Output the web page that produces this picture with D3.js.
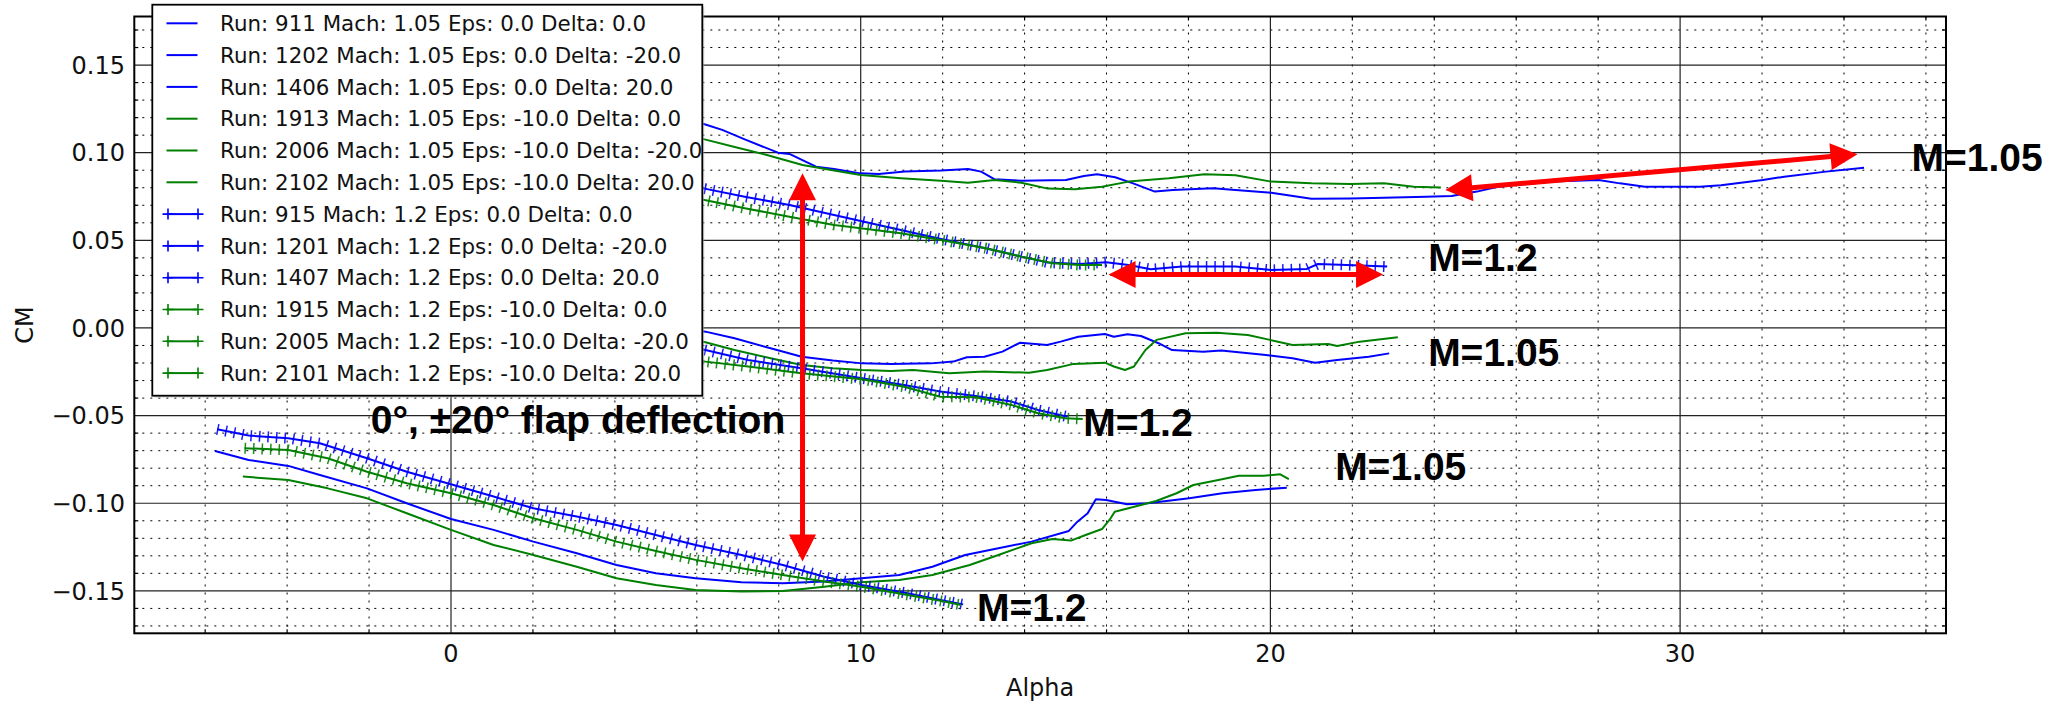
<!DOCTYPE html>
<html><head><meta charset="utf-8">
<script src="https://cdn.jsdelivr.net/npm/d3@7"></script>
<style>body{margin:0;background:#fff;} svg{display:block;}</style>
</head><body>
<svg id="chart" width="2067" height="708"></svg>
<script>
// ---------------- DATA ----------------
const legendLabels = [
  "Run: 911 Mach: 1.05 Eps: 0.0 Delta: 0.0",
  "Run: 1202 Mach: 1.05 Eps: 0.0 Delta: -20.0",
  "Run: 1406 Mach: 1.05 Eps: 0.0 Delta: 20.0",
  "Run: 1913 Mach: 1.05 Eps: -10.0 Delta: 0.0",
  "Run: 2006 Mach: 1.05 Eps: -10.0 Delta: -20.0",
  "Run: 2102 Mach: 1.05 Eps: -10.0 Delta: 20.0",
  "Run: 915 Mach: 1.2 Eps: 0.0 Delta: 0.0",
  "Run: 1201 Mach: 1.2 Eps: 0.0 Delta: -20.0",
  "Run: 1407 Mach: 1.2 Eps: 0.0 Delta: 20.0",
  "Run: 1915 Mach: 1.2 Eps: -10.0 Delta: 0.0",
  "Run: 2005 Mach: 1.2 Eps: -10.0 Delta: -20.0",
  "Run: 2101 Mach: 1.2 Eps: -10.0 Delta: 20.0"
];

// Mach 1.05 runs (plain lines)
const run911Alpha = [-5.7,-3,0,3,6.21,6.92,7.80,8.56,9.32,10.03,10.74,11.72,12.26,12.59,13.02,13.46,13.89,14.55,14.88,15.31,15.96,16.18,16.51,16.84,17.27,17.6,18.36,18.8,19.89,20.54,21.09,21.63,22.4,22.9];
const run911CM    = [0.045,0.035,0.024,0.012,-0.0021,-0.0059,-0.0116,-0.0164,-0.0186,-0.0202,-0.0205,-0.0202,-0.0192,-0.0167,-0.0164,-0.0135,-0.0084,-0.0097,-0.0078,-0.0050,-0.0034,-0.0050,-0.0036,-0.0046,-0.0087,-0.0126,-0.0135,-0.0129,-0.0154,-0.0173,-0.0198,-0.0183,-0.0164,-0.0145];

const run1202Alpha = [-5.7,-4,-2,0,2,4,6.19,6.62,7.17,7.98,8.26,8.91,9.35,10.0,10.44,11.08,11.96,12.62,12.94,13.27,13.92,15.01,15.45,15.77,16.21,16.65,17.18,17.62,18.60,19.15,20.02,21.0,21.95,22.77,23.8,24.42,25.04,25.55,26.89,28.01,28.53,29.14,30.48,31.0,32.02,32.54,33.56,34.49];
const run1202CM    = [0.160,0.156,0.150,0.142,0.133,0.125,0.1162,0.1130,0.1076,0.1000,0.0993,0.0920,0.0907,0.0882,0.0878,0.0892,0.0898,0.0907,0.0892,0.0848,0.0840,0.0844,0.0867,0.0877,0.0860,0.0825,0.0778,0.0787,0.0797,0.0787,0.0772,0.0737,0.0738,0.0743,0.0749,0.0753,0.0778,0.0806,0.0835,0.0844,0.0825,0.0806,0.0806,0.0814,0.0844,0.0863,0.0892,0.0914];

const run1406Alpha = [-5.76,-4.94,-3.97,-3.2,-2.05,-1.08,0,1.04,2.01,3.07,4.04,5.0,5.97,7.09,8.1,9.11,10.02,10.94,11.75,12.55,13.36,14.17,15.08,15.29,15.54,15.74,15.99,16.5,17.0,18.02,18.83,19.64,20.4];
const run1406CM    = [-0.0702,-0.0753,-0.0787,-0.0839,-0.0915,-0.1000,-0.1090,-0.1152,-0.1219,-0.1285,-0.1352,-0.1399,-0.1428,-0.1451,-0.1456,-0.1447,-0.1428,-0.1409,-0.1362,-0.1295,-0.1257,-0.1219,-0.1158,-0.1105,-0.1057,-0.0977,-0.0981,-0.1006,-0.1000,-0.0972,-0.0943,-0.0924,-0.0911];

const run1913Alpha = [-5.0,-2,1,4,6.21,6.92,7.80,8.56,9.32,10.03,10.74,11.28,12.16,13.02,14.11,14.55,15.2,15.96,16.18,16.45,16.67,16.95,17.22,17.93,18.69,19.45,19.99,20.54,21.41,21.63,22.18,23.11];
const run1913CM    = [0.035,0.025,0.014,0.003,-0.0082,-0.0126,-0.0173,-0.0211,-0.0230,-0.0240,-0.0245,-0.0240,-0.0259,-0.0249,-0.0255,-0.0240,-0.0205,-0.0198,-0.0220,-0.0240,-0.0220,-0.0126,-0.0068,-0.0030,-0.0027,-0.0040,-0.0068,-0.0097,-0.0091,-0.0103,-0.0078,-0.0053];

const run2006Alpha = [-5.0,-3,0,3,6.19,6.95,7.71,8.58,9.35,10.0,10.98,11.96,12.62,13.27,13.92,14.57,15.23,15.89,16.54,17.52,18.39,19.15,20.02,21.0,21.95,22.77,23.5,24.16];
const run2006CM    = [0.150,0.145,0.133,0.122,0.1076,0.1031,0.0987,0.0930,0.0898,0.0873,0.0854,0.0840,0.0829,0.0844,0.0829,0.0795,0.0791,0.0806,0.0835,0.0854,0.0877,0.0871,0.0835,0.0825,0.0821,0.0825,0.0806,0.0802];

const run2102Alpha = [-5.08,-3.97,-3.01,-2.05,-1.08,0,1.04,2.01,3.07,4.04,5.0,5.97,7.09,8.1,9.11,10.02,10.94,11.75,12.66,13.36,14.17,14.68,15.13,15.49,15.89,16.1,16.2,16.7,17.21,17.71,18.12,18.73,19.23,19.84,20.24,20.45];
const run2102CM    = [-0.0848,-0.0867,-0.0915,-0.0972,-0.1057,-0.1152,-0.1238,-0.1295,-0.1362,-0.1428,-0.1466,-0.1495,-0.1504,-0.1500,-0.1476,-0.1451,-0.1438,-0.1409,-0.1352,-0.1295,-0.1228,-0.1204,-0.1213,-0.1181,-0.1147,-0.1086,-0.1048,-0.1019,-0.0987,-0.0943,-0.0896,-0.0867,-0.0843,-0.0843,-0.0835,-0.0862];

// Mach 1.2 runs (lines with + markers)
const run915Alpha = [-5.7,-3,0,3,6.21,7.25,8.56,10.03,11.06,11.94,12.81,13.68,14.33,15.05];
const run915CM    = [0.030,0.022,0.011,0.001,-0.0126,-0.0183,-0.0230,-0.0287,-0.0325,-0.0363,-0.0388,-0.0420,-0.0468,-0.0506];

const run1201Alpha = [-5.7,-3,0,3,6.19,7.17,8.26,9.35,10.0,10.98,11.96,13.05,13.92,14.57,15.34,15.99,16.54,17.08,17.84,19.15,20.02,20.89,21.16,21.87,22.85];
const run1201CM    = [0.123,0.113,0.101,0.090,0.0795,0.0749,0.0702,0.0645,0.0610,0.0559,0.0508,0.0455,0.0407,0.0373,0.0365,0.0375,0.0359,0.0335,0.0350,0.0350,0.0331,0.0337,0.0365,0.0359,0.0350];

const run1407Alpha = [-5.71,-4.94,-3.97,-3.2,-2.05,-1.08,0,1.04,2.01,3.07,4.04,5.0,5.97,7.09,8.1,9.11,10.02,11.14,11.95,12.5];
const run1407CM    = [-0.0578,-0.0614,-0.0629,-0.0658,-0.0743,-0.0820,-0.0892,-0.0962,-0.1029,-0.1076,-0.1124,-0.1181,-0.1238,-0.1295,-0.1352,-0.1419,-0.1466,-0.1513,-0.1552,-0.1577];

const run1915Alpha = [-5.0,-2,1,4,6.21,7.25,8.56,10.03,11.06,11.94,12.81,13.68,14.33,14.99,15.42];
const run1915CM    = [0.022,0.013,0.004,-0.007,-0.0192,-0.0220,-0.0259,-0.0293,-0.0335,-0.0392,-0.0395,-0.0439,-0.0487,-0.0515,-0.0519];

const run2005Alpha = [-5.0,-2,1,4,6.19,7.17,8.26,9.35,10.0,10.98,11.96,13.05,13.92,14.69,15.34,15.89];
const run2005CM    = [0.113,0.102,0.091,0.081,0.0730,0.0683,0.0635,0.0588,0.0569,0.0540,0.0502,0.0455,0.0407,0.0369,0.0359,0.0359];

const run2101Alpha = [-5.04,-3.97,-3.01,-2.05,-1.08,0,1.04,2.01,3.07,4.04,5.0,5.97,7.09,8.1,9.11,10.02,11.14,11.95,12.45];
const run2101CM    = [-0.0686,-0.0696,-0.0743,-0.0820,-0.0886,-0.0943,-0.1010,-0.1086,-0.1152,-0.1219,-0.1272,-0.1323,-0.1371,-0.1409,-0.1447,-0.1476,-0.1523,-0.1557,-0.1580];

// ticks
const xMajorTicks = [0, 10, 20, 30];
const xTickLabels = ["0", "10", "20", "30"];
const yMajorTicks = [-0.15, -0.10, -0.05, 0.00, 0.05, 0.10, 0.15];
const yTickLabels = ["\u22120.15", "\u22120.10", "\u22120.05", "0.00", "0.05", "0.10", "0.15"];
const xMinorTicks = [-6,-4,-2,2,4,6,8,12,14,16,18,22,24,26,28,32,34,36];
const yMinorTicks = [-0.17,-0.16,-0.14,-0.13,-0.12,-0.11,-0.09,-0.08,-0.07,-0.06,-0.04,-0.03,-0.02,-0.01,0.01,0.02,0.03,0.04,0.06,0.07,0.08,0.09,0.11,0.12,0.13,0.14,0.16,0.17];

// annotations (data coordinates)
const annotationTexts = ["M=1.05", "M=1.2", "M=1.05", "M=1.2", "M=1.05", "M=1.2", "0\u00b0, \u00b120\u00b0 flap deflection"];
const annotationAlpha = [35.65, 23.85, 23.85, 15.43, 21.58, 12.84, -1.96];
const annotationCM    = [0.0896, 0.0325, -0.0217, -0.0616, -0.0867, -0.1671, -0.0601];
const arrowFrom = [[8.58, 0.0882], [16.05, 0.0305], [24.27, 0.0787]];
const arrowTo   = [[8.58, -0.1333], [22.75, 0.0305], [34.33, 0.0991]];

// ---------------- DRAWING ----------------
const BLUE = "#0000ff", GREEN = "#008000";
const series = [
  {a: run911Alpha,  c: run911CM,  col: BLUE,  mk: false},
  {a: run1202Alpha, c: run1202CM, col: BLUE,  mk: false},
  {a: run1406Alpha, c: run1406CM, col: BLUE,  mk: false},
  {a: run1913Alpha, c: run1913CM, col: GREEN, mk: false},
  {a: run2006Alpha, c: run2006CM, col: GREEN, mk: false},
  {a: run2102Alpha, c: run2102CM, col: GREEN, mk: false},
  {a: run915Alpha,  c: run915CM,  col: BLUE,  mk: true},
  {a: run1201Alpha, c: run1201CM, col: BLUE,  mk: true},
  {a: run1407Alpha, c: run1407CM, col: BLUE,  mk: true},
  {a: run1915Alpha, c: run1915CM, col: GREEN, mk: true},
  {a: run2005Alpha, c: run2005CM, col: GREEN, mk: true},
  {a: run2101Alpha, c: run2101CM, col: GREEN, mk: true}
];

const svg = d3.select("#chart");
const P = {left: 134.3, right: 1946, top: 16.5, bottom: 633.3};
const x = d3.scaleLinear().domain([-7.73, 36.49]).range([P.left, P.right]);
const y = d3.scaleLinear().domain([-0.1742, 0.1777]).range([P.bottom, P.top]);

svg.append("rect").attr("width", 2067).attr("height", 708).attr("fill", "#fff");

svg.append("defs").append("clipPath").attr("id", "clip")
  .append("rect").attr("x", P.left).attr("y", P.top)
  .attr("width", P.right - P.left).attr("height", P.bottom - P.top);

const grid = svg.append("g");
// minor grid (dotted)
grid.selectAll(".mx").data(xMinorTicks).join("line")
  .attr("x1", d => x(d)).attr("x2", d => x(d)).attr("y1", P.top).attr("y2", P.bottom)
  .attr("stroke", "#000").attr("stroke-width", 1).attr("stroke-dasharray", "2,6");
grid.selectAll(".my").data(yMinorTicks).join("line")
  .attr("y1", d => y(d)).attr("y2", d => y(d)).attr("x1", P.left).attr("x2", P.right)
  .attr("stroke", "#000").attr("stroke-width", 1).attr("stroke-dasharray", "2,6");
// major grid (solid)
grid.selectAll(".Mx").data(xMajorTicks).join("line")
  .attr("x1", d => x(d)).attr("x2", d => x(d)).attr("y1", P.top).attr("y2", P.bottom)
  .attr("stroke", "#222").attr("stroke-width", 1.2);
grid.selectAll(".My").data(yMajorTicks).join("line")
  .attr("y1", d => y(d)).attr("y2", d => y(d)).attr("x1", P.left).attr("x2", P.right)
  .attr("stroke", "#222").attr("stroke-width", 1.2);

// data lines
const line = d3.line().x(d => x(d[0])).y(d => y(d[1]));
const lines = svg.append("g").attr("clip-path", "url(#clip)");
series.forEach(s => {
  const pts = s.a.map((v, i) => [v, s.c[i]]);
  lines.append("path").attr("d", line(pts)).attr("fill", "none")
    .attr("stroke", s.col).attr("stroke-width", 2).attr("stroke-linejoin", "round");
  if (s.mk) {
    lines.append("path").attr("d", line(pts)).attr("fill", "none")
      .attr("stroke", s.col).attr("stroke-width", 11).attr("stroke-dasharray", "1.5,7")
      .attr("stroke-linejoin", "bevel").attr("opacity", 0.9);
  }
});

// spines
svg.append("rect").attr("x", P.left).attr("y", P.top)
  .attr("width", P.right - P.left).attr("height", P.bottom - P.top)
  .attr("fill", "none").attr("stroke", "#000").attr("stroke-width", 2);

// ticks (inward, all sides)
const tk = svg.append("g").attr("stroke", "#000").attr("stroke-width", 1.2);
xMinorTicks.forEach(d => {
  tk.append("line").attr("x1", x(d)).attr("x2", x(d)).attr("y1", P.bottom).attr("y2", P.bottom - 4);
  tk.append("line").attr("x1", x(d)).attr("x2", x(d)).attr("y1", P.top).attr("y2", P.top + 4);
});
yMinorTicks.forEach(d => {
  tk.append("line").attr("y1", y(d)).attr("y2", y(d)).attr("x1", P.left).attr("x2", P.left + 4);
  tk.append("line").attr("y1", y(d)).attr("y2", y(d)).attr("x1", P.right).attr("x2", P.right - 4);
});

// tick labels
const FONT = "'DejaVu Sans', 'Bitstream Vera Sans', sans-serif";
svg.append("g").selectAll("text").data(yMajorTicks).join("text")
  .attr("x", 125).attr("y", d => y(d)).attr("dy", "0.36em")
  .attr("text-anchor", "end").attr("font-family", FONT).attr("font-size", 24).attr("fill", "#111")
  .text((d, i) => yTickLabels[i]);
svg.append("g").selectAll("text").data(xMajorTicks).join("text")
  .attr("x", d => x(d)).attr("y", 662)
  .attr("text-anchor", "middle").attr("font-family", FONT).attr("font-size", 24).attr("fill", "#111")
  .text((d, i) => xTickLabels[i]);

// axis labels
svg.append("text").attr("x", (P.left + P.right) / 2).attr("y", 696)
  .attr("text-anchor", "middle").attr("font-family", FONT).attr("font-size", 24).attr("fill", "#111")
  .text("Alpha");
svg.append("text").attr("transform", `translate(33,${(P.top + P.bottom) / 2}) rotate(-90)`)
  .attr("text-anchor", "middle").attr("font-family", FONT).attr("font-size", 24).attr("fill", "#111")
  .text("CM");

// legend
const L = {x: 152.3, y: 4.7, w: 550, h: 391, row0: 23.3, dy: 31.8};
const lg = svg.append("g");
lg.append("rect").attr("x", L.x + 2).attr("y", L.y + 2).attr("width", L.w).attr("height", L.h)
  .attr("fill", "#bbb").attr("opacity", 0.5);
lg.append("rect").attr("x", L.x).attr("y", L.y).attr("width", L.w).attr("height", L.h)
  .attr("fill", "#fff").attr("stroke", "#000").attr("stroke-width", 1.8);
legendLabels.forEach((lab, i) => {
  const cy = L.row0 + i * L.dy;
  const s = series[i];
  lg.append("line").attr("x1", 166.5).attr("x2", 197.5).attr("y1", cy).attr("y2", cy)
    .attr("stroke", s.col).attr("stroke-width", 2);
  if (s.mk) {
    [168, 198].forEach(cx => {
      lg.append("path").attr("d", `M${cx - 5.5},${cy}H${cx + 5.5}M${cx},${cy - 5.5}V${cy + 5.5}`)
        .attr("stroke", s.col).attr("stroke-width", 1.6).attr("fill", "none");
    });
  }
  lg.append("text").attr("x", 220).attr("y", cy).attr("dy", "0.36em")
    .attr("font-family", FONT).attr("font-size", 21.4).attr("fill", "#111").text(lab);
});

// red arrows
function doubleArrow(x1, y1, x2, y2, hl, hw, sw) {
  const dx = x2 - x1, dy = y2 - y1, Ln = Math.hypot(dx, dy);
  const ux = dx / Ln, uy = dy / Ln, px = -uy, py = ux;
  const p = (t, s) => [x1 + ux * t + px * s, y1 + uy * t + py * s];
  const pts = [p(0, 0), p(hl, hw / 2), p(hl, sw / 2), p(Ln - hl, sw / 2), p(Ln - hl, hw / 2),
               p(Ln, 0), p(Ln - hl, -hw / 2), p(Ln - hl, -sw / 2), p(hl, -sw / 2), p(hl, -hw / 2)];
  return d3.line()(pts) + "Z";
}
arrowFrom.forEach((f, i) => {
  const t = arrowTo[i];
  svg.append("path")
    .attr("d", doubleArrow(x(f[0]), y(f[1]), x(t[0]), y(t[1]), 27, 27, 5))
    .attr("fill", "#ff0000");
});

// annotation texts
svg.append("g").selectAll("text").data(annotationTexts).join("text")
  .attr("x", (d, i) => x(annotationAlpha[i])).attr("y", (d, i) => y(annotationCM[i]))
  .attr("font-family", "'Liberation Sans', Arial, Helvetica, sans-serif")
  .attr("font-weight", "bold").attr("font-size", 39).attr("fill", "#000")
  .text(d => d);
</script>
</body></html>
